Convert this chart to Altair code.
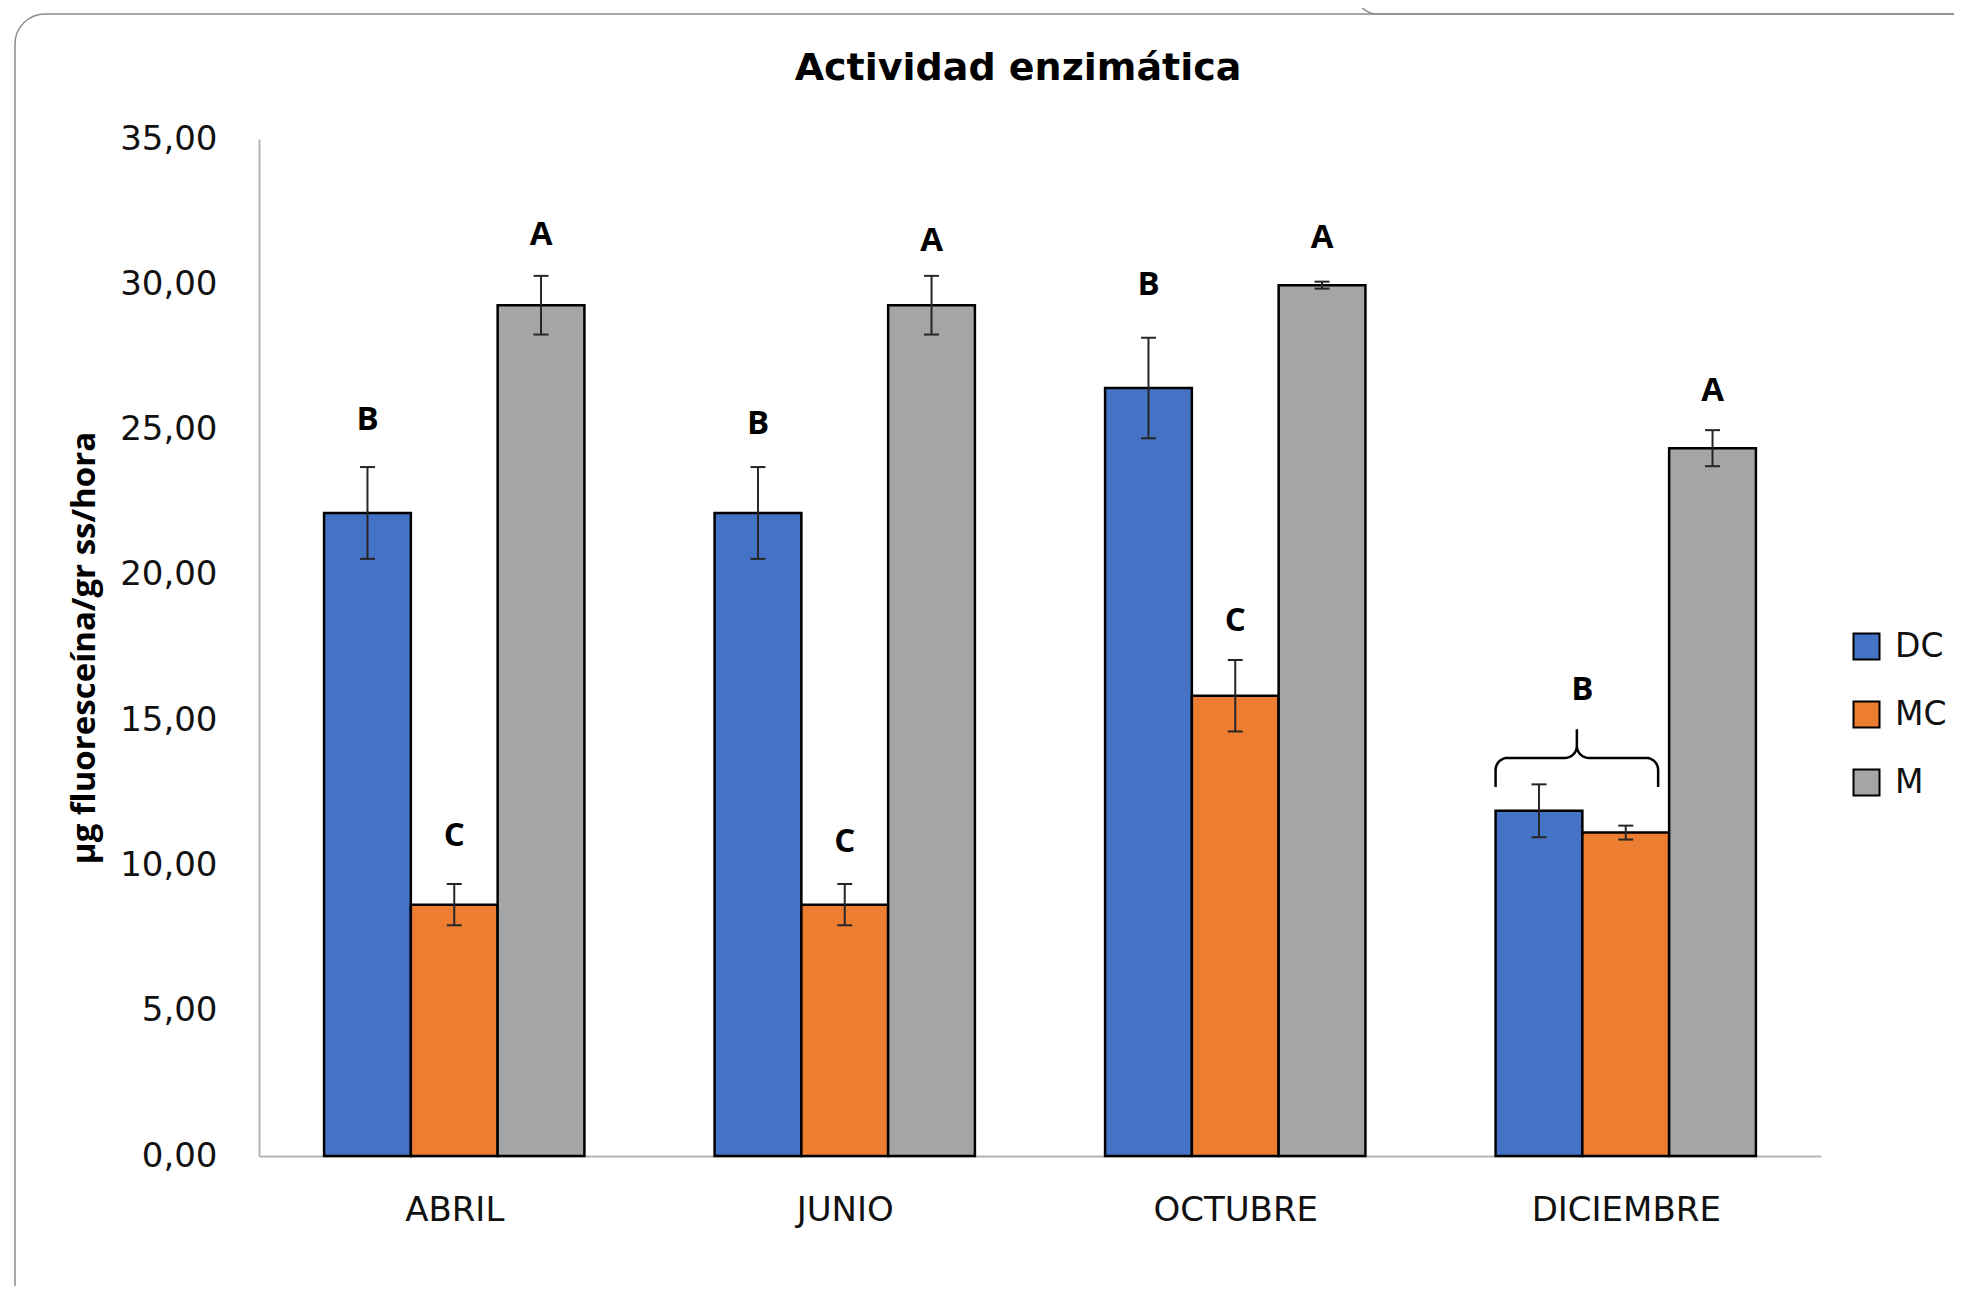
import numpy as np
import pandas as pd
import altair as alt

# ---------------- data ----------------
months = ["ABRIL", "JUNIO", "OCTUBRE", "DICIEMBRE"]
series = ["DC", "MC", "M"]
colors = ["#4472C4", "#ED7D31", "#A5A5A5"]

dc_vals = [22.13, 22.13, 26.43, 11.88]
mc_vals = [8.65, 8.65, 15.84, 11.13]
m_vals = [29.28, 29.28, 29.97, 24.36]

dc_err = [1.58, 1.58, 1.73, 0.91]
mc_err = [0.71, 0.71, 1.23, 0.24]
m_err = [1.01, 1.01, 0.12, 0.62]

# significance letters (month index, slot within group, letter, height)
letter_text = ["B", "C", "A", "B", "C", "A", "B", "C", "A", "B", "A"]
letter_month = [0, 0, 0, 1, 1, 1, 2, 2, 2, 3, 3]
letter_slot = [0, 1, 2, 0, 1, 2, 0, 1, 2, 0.5, 2]
letter_y = [25.33, 11.01, 31.69, 25.18, 10.80, 31.50, 29.97, 18.42, 31.60, 16.04, 26.34]

y_ticks = [0, 5, 10, 15, 20, 25, 30, 35]

# ---------------- layout ----------------
W, H = 1562, 1017
OUTER = 1 / 6          # space before first bar in each group (data units)
BW = 2 / 9             # bar width (data units, group step = 1)
CAP = 7.5 / (W / 4)    # half width of error bar caps

vals = [dc_vals, mc_vals, m_vals]
errs = [dc_err, mc_err, m_err]
rows = []
for si, s in enumerate(series):
    for mi, mth in enumerate(months):
        rows.append({"mi": mi, "si": si, "series": s, "month": mth,
                     "value": vals[si][mi], "err": errs[si][mi]})
bars_df = pd.DataFrame(rows)

letters_df = pd.DataFrame({"mi": letter_month, "slot": letter_slot,
                           "letter": letter_text, "ly": letter_y})

# curly brace over DICIEMBRE DC+MC
bl, br = 3 + OUTER, 3 + OUTER + 2 * BW - 11 / (W / 4)
bc = (bl + br) / 2
y_end, y_mid, y_tip = 12.70, 13.70, 14.69
rx, ry = 12 / (W / 4), 12 / (H / 35)
t = np.linspace(0, np.pi / 2, 10)
pts = [(bl, y_end)]
pts += [(bl + rx - rx * np.cos(a), y_mid - ry + ry * np.sin(a)) for a in t]
pts += [(bc - rx + rx * np.sin(a), y_mid + ry - ry * np.cos(a)) for a in t]
pts += [(bc, y_tip)]
pts += [(bc + rx - rx * np.sin(a), y_mid + ry - ry * np.cos(a)) for a in t[::-1]]
pts += [(br - rx + rx * np.cos(a), y_mid - ry + ry * np.sin(a)) for a in t[::-1]]
pts += [(br, y_end)]
brace_df = pd.DataFrame({"bx": [p[0] for p in pts], "by": [p[1] for p in pts],
                         "o": list(range(len(pts)))})

label_expr = "[" + ",".join("'%s'" % m for m in months) + "][floor(datum.value)]"

xscale = alt.Scale(domain=[0, 4], nice=False, zero=False)
yscale = alt.Scale(domain=[0, 35], nice=False)

x_axis = alt.Axis(values=[i + 0.5 for i in range(len(months))], labelExpr=label_expr,
                  ticks=False, grid=False, domainColor="#b3b3b3", domainWidth=2,
                  labelFont="DejaVu Sans", labelFontSize=34, labelColor="#111111",
                  labelPadding=37, labelLimit=600, title=None)
y_axis = alt.Axis(values=y_ticks, ticks=False, grid=False, domainColor="#b3b3b3",
                  domainWidth=2, labelFont="DejaVu Sans", labelFontSize=34,
                  labelColor="#111111", labelPadding=42,
                  labelExpr="replace(format(datum.value, '.2f'), '.', ',')",
                  title="µg fluoresceína/gr ss/hora", titleFont="Open Sans",
                  titleFontSize=33, titleFontWeight="bold", titleColor="black",
                  titlePadding=18)

base = alt.Chart(bars_df).transform_calculate(
    x0=f"datum.mi + {OUTER} + datum.si * {BW}",
    x1=f"datum.mi + {OUTER} + (datum.si + 1) * {BW}",
    xc=f"datum.mi + {OUTER} + (datum.si + 0.5) * {BW}",
    zero="0",
    lo="datum.value - datum.err",
    hi="datum.value + datum.err",
    c0=f"datum.mi + {OUTER} + (datum.si + 0.5) * {BW} - {CAP}",
    c1=f"datum.mi + {OUTER} + (datum.si + 0.5) * {BW} + {CAP}",
)

frame_df = pd.DataFrame({"a": [0]})
frame = alt.Chart(frame_df).mark_rect(
    fillOpacity=0, stroke="#8c8c8c", strokeWidth=1.5, cornerRadius=30
).encode(x=alt.value(15 - 259), y=alt.value(14 - 139),
         x2=alt.value(1800), y2=alt.value(1280))
frame2 = alt.Chart(frame_df).mark_rect(
    fillOpacity=0, stroke="#8c8c8c", strokeWidth=1.5, cornerRadius=20
).encode(x=alt.value(1357 - 259), y=alt.value(-170),
         x2=alt.value(1800), y2=alt.value(14 - 139))

bars = base.mark_bar(stroke="black", strokeWidth=2.5).encode(
    x=alt.X("x0:Q", scale=xscale, axis=x_axis),
    x2="x1:Q",
    y=alt.Y("value:Q", scale=yscale, axis=y_axis),
    y2="zero:Q",
    color=alt.Color("series:N", scale=alt.Scale(domain=series, range=colors),
                    legend=alt.Legend(title=None, orient="none", legendX=1591, legendY=491,
                                      symbolType="square", symbolSize=676,
                                      symbolStrokeColor="black", symbolStrokeWidth=2,
                                      labelFont="DejaVu Sans", labelFontSize=33,
                                      labelColor="#111111", rowPadding=33,
                                      labelOffset=12, padding=0)),
)

err_v = base.mark_rule(color="#262626", strokeWidth=2).encode(
    x="xc:Q", y="lo:Q", y2="hi:Q")
cap_hi = base.mark_rule(color="#262626", strokeWidth=2).encode(
    x="c0:Q", x2="c1:Q", y="hi:Q")
cap_lo = base.mark_rule(color="#262626", strokeWidth=2).encode(
    x="c0:Q", x2="c1:Q", y="lo:Q")

letters = alt.Chart(letters_df).transform_calculate(
    lx=f"datum.mi + {OUTER} + (datum.slot + 0.5) * {BW}"
).mark_text(font="Open Sans", fontSize=33, fontWeight="bold", color="black",
            baseline="middle", align="center").encode(
    x="lx:Q", y="ly:Q", text="letter:N")

brace = alt.Chart(brace_df).mark_line(color="black", strokeWidth=2.5).encode(
    x="bx:Q", y="by:Q", order="o:Q")

chart = alt.layer(frame, frame2, bars, err_v, cap_hi, cap_lo, letters, brace).properties(
    width=W, height=H,
    title=alt.TitleParams("Actividad enzimática", font="DejaVu Sans", fontSize=38,
                          fontWeight="bold", color="black", anchor="middle",
                          frame="group", baseline="alphabetic", offset=-150, dx=-22),
    autosize=alt.AutoSizeParams(type="none"),
    padding={"left": 251, "top": 131, "right": 133, "bottom": 130},
    background="white",
).configure_view(strokeWidth=0, stroke="transparent")

chart.save("out.html", embed_options={"renderer": "svg", "actions": False})
